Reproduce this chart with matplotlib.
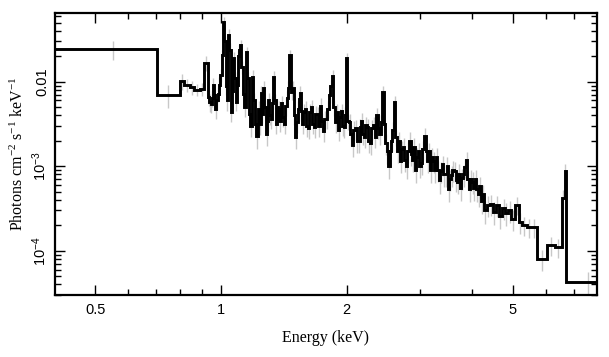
import numpy as np
import matplotlib
matplotlib.use("Agg")
import matplotlib.pyplot as plt
from matplotlib.ticker import FixedLocator, FixedFormatter, NullFormatter

# ---- data ----
energy_edges = [
    0.38, 0.702, 0.798, 0.815, 0.843, 0.862, 0.891, 0.911, 0.931,
    0.9385, 0.946, 0.9515, 0.957, 0.962, 0.967, 0.9755, 0.984, 0.989, 0.9945,
    1.003, 1.011, 1.0195, 1.028, 1.0335, 1.039, 1.048, 1.057, 1.0625, 1.068,
    1.077, 1.086, 1.092, 1.098, 1.104, 1.110, 1.1195, 1.129, 1.1385, 1.148,
    1.1575, 1.167, 1.1765, 1.186, 1.196, 1.206, 1.216, 1.226, 1.2365, 1.247,
    1.2535, 1.260, 1.271, 1.282, 1.289, 1.296, 1.3065, 1.317, 1.3245, 1.332,
    1.343, 1.354, 1.3615, 1.369, 1.3805, 1.392, 1.4035, 1.415, 1.427, 1.439,
    1.447, 1.455, 1.471, 1.487, 1.4955, 1.504, 1.5165, 1.529, 1.5375, 1.546,
    1.5545, 1.563, 1.576, 1.589, 1.6025, 1.616, 1.629, 1.642, 1.656, 1.670,
    1.684, 1.698, 1.712, 1.726, 1.7405, 1.755, 1.7695, 1.784, 1.799, 1.814,
    1.829, 1.844, 1.8595, 1.875, 1.8905, 1.906, 1.922, 1.938, 1.954, 1.970,
    1.981, 1.992, 2.0085, 2.025, 2.042, 2.059, 2.0765, 2.094, 2.1115, 2.129,
    2.1465, 2.164, 2.182, 2.200, 2.2185, 2.237, 2.2555, 2.274, 2.293, 2.312,
    2.3315, 2.351, 2.3705, 2.390, 2.410, 2.430, 2.450, 2.470, 2.491, 2.512,
    2.5325, 2.553, 2.5745, 2.596, 2.6175, 2.639, 2.661, 2.683, 2.7055, 2.728,
    2.7505, 2.773, 2.7965, 2.820, 2.8435, 2.867, 2.8905, 2.914, 2.9385, 2.963,
    2.9875, 3.012, 3.0375, 3.063, 3.0885, 3.114, 3.140, 3.166, 3.192, 3.218,
    3.245, 3.272, 3.2995, 3.327, 3.3545, 3.382, 3.4105, 3.439, 3.4675, 3.496,
    3.525, 3.554, 3.584, 3.614, 3.644, 3.674, 3.7045, 3.735, 3.766, 3.797,
    3.829, 3.861, 3.893, 3.925, 3.9575, 3.990, 4.0235, 4.057, 4.0905, 4.124,
    4.1585, 4.193, 4.228, 4.263,
    4.335, 4.407, 4.480, 4.555, 4.631, 4.709, 4.787, 4.867, 4.949, 5.058,
    5.171, 5.257, 5.404, 5.524, 5.709, 6.035, 6.306, 6.555, 6.646, 6.702, 8.5,
]

flux = [
    0.0244, 0.00696, 0.0102, 0.0091, 0.0086, 0.0080, 0.0082, 0.0166,
    0.0066, 0.0058, 0.0054, 0.0064, 0.0091, 0.0070, 0.0048, 0.0060, 0.0072, 0.0092,
    0.0120, 0.0207, 0.051, 0.030, 0.0090, 0.0060, 0.036, 0.024, 0.0044, 0.0078,
    0.0190, 0.0110, 0.0058, 0.0092, 0.0200, 0.0237, 0.0272, 0.0150, 0.0072, 0.0050,
    0.0223, 0.0110, 0.0042, 0.0030, 0.0114, 0.0060, 0.0032, 0.0023, 0.0048, 0.0032,
    0.0074, 0.0042, 0.0084, 0.0050, 0.0024, 0.0034, 0.0061, 0.0040, 0.0036, 0.0056,
    0.0114, 0.0060, 0.0032, 0.0050, 0.0048, 0.0034, 0.0056, 0.0038, 0.0032, 0.0052,
    0.0064, 0.0085, 0.0207, 0.0075, 0.0085, 0.0040, 0.0022, 0.0033, 0.0048, 0.0062,
    0.0074, 0.0045, 0.0032, 0.0044, 0.0048, 0.0030, 0.0028, 0.0044, 0.0050, 0.0032,
    0.0029, 0.0042, 0.0041, 0.0030, 0.0052, 0.0034, 0.0026, 0.0036, 0.0036, 0.0048,
    0.0070, 0.0088, 0.0117, 0.0050, 0.0033, 0.0044, 0.0027, 0.0038, 0.0045, 0.0030,
    0.0029, 0.0040, 0.0190, 0.0034, 0.0033, 0.0024, 0.0018, 0.0027, 0.0028, 0.0020,
    0.0020, 0.0029, 0.0034, 0.0024, 0.0022, 0.0031, 0.0029, 0.0020, 0.0019, 0.0028,
    0.0031, 0.0022, 0.0040, 0.0028, 0.0024, 0.0033, 0.0076, 0.0032, 0.0019, 0.00150,
    0.00100, 0.0015, 0.0020, 0.0027, 0.0057, 0.0022, 0.00150, 0.0020, 0.00115, 0.0016,
    0.0017, 0.0012, 0.0010, 0.0015, 0.0020, 0.0014, 0.00120, 0.0017, 0.0009, 0.0013,
    0.00150, 0.0010, 0.00110, 0.0016, 0.0023, 0.0015, 0.00115, 0.0015, 0.0009, 0.0013,
    0.00115, 0.0009, 0.0013, 0.0009, 0.00068, 0.00088, 0.00105, 0.0008, 0.00080, 0.0010,
    0.00054, 0.00070, 0.00078, 0.00090, 0.00088, 0.00068, 0.00066, 0.00082, 0.00056, 0.00072,
    0.00080, 0.00098, 0.00118, 0.00070, 0.00054, 0.00070, 0.00066, 0.00056, 0.00070, 0.00054,
    0.00047, 0.00058, 0.00039, 0.00047,
    0.00030, 0.00035, 0.00036, 0.00029, 0.00035, 0.00026, 0.00032, 0.00028, 0.00030, 0.00024,
    0.00035, 0.00022, 0.00020, 0.00019, 0.00019, 7.96e-5, 0.000117, 0.000110, 0.00042, 0.00088,
    4.3e-5,
]

# relative size of the grey error bars, one per bin
rel_err = [
    0.25, 0.30, 0.22, 0.18, 0.18, 0.16, 0.18, 0.20,
    0.22, 0.24, 0.20, 0.22, 0.20, 0.22, 0.24, 0.22, 0.20, 0.22,
    0.18, 0.16, 0.15, 0.16, 0.22, 0.24, 0.16, 0.18, 0.25, 0.22,
    0.18, 0.20, 0.22, 0.20, 0.16, 0.16, 0.15, 0.18, 0.22, 0.24,
    0.16, 0.18, 0.25, 0.26, 0.20, 0.22, 0.28, 0.30, 0.24, 0.26,
    0.20, 0.22, 0.20, 0.22, 0.28, 0.26, 0.22, 0.24, 0.24, 0.22,
    0.18, 0.20, 0.25, 0.24, 0.24, 0.26, 0.22, 0.24, 0.25, 0.24,
    0.22, 0.20, 0.16, 0.18, 0.20, 0.24, 0.28, 0.26, 0.24, 0.22,
    0.20, 0.24, 0.25, 0.24, 0.24, 0.26, 0.25, 0.24, 0.22, 0.25,
    0.25, 0.24, 0.24, 0.26, 0.22, 0.25, 0.26, 0.24, 0.24, 0.22,
    0.20, 0.20, 0.18, 0.22, 0.25, 0.24, 0.26, 0.25, 0.22, 0.25,
    0.25, 0.24, 0.16, 0.20, 0.26, 0.28, 0.28, 0.26, 0.26, 0.28,
    0.28, 0.26, 0.24, 0.26, 0.26, 0.25, 0.25, 0.28, 0.28, 0.26,
    0.25, 0.26, 0.22, 0.25, 0.25, 0.24, 0.18, 0.20, 0.28, 0.30,
    0.30, 0.28, 0.25, 0.24, 0.20, 0.22, 0.28, 0.26, 0.28, 0.26,
    0.26, 0.28, 0.30, 0.28, 0.26, 0.28, 0.28, 0.26, 0.30, 0.28,
    0.26, 0.28, 0.28, 0.26, 0.22, 0.24, 0.28, 0.26, 0.30, 0.28,
    0.28, 0.30, 0.26, 0.28, 0.30, 0.28, 0.26, 0.28, 0.28, 0.28,
    0.30, 0.28, 0.28, 0.28, 0.26, 0.28, 0.28, 0.28, 0.30, 0.28,
    0.28, 0.26, 0.24, 0.26, 0.30, 0.28, 0.28, 0.30, 0.28, 0.30,
    0.30, 0.28, 0.30, 0.28,
    0.30, 0.28, 0.28, 0.30, 0.28, 0.30, 0.28, 0.30, 0.28, 0.28,
    0.25, 0.28, 0.26, 0.26, 0.25, 0.28, 0.25, 0.25, 0.25, 0.20,
    0.30,
]

x_tick_vals = [0.5, 1, 2, 5]
x_tick_labels = ["0.5", "1", "2", "5"]
y_tick_vals = [1e-4, 1e-3, 1e-2]
y_tick_labels = [r"$\mathsf{10^{-4}}$", r"$\mathsf{10^{-3}}$", "0.01"]

# ---- style ----
plt.rcParams["mathtext.fontset"] = "custom"
plt.rcParams["mathtext.rm"] = "Liberation Serif"
plt.rcParams["mathtext.it"] = "Liberation Serif:italic"
plt.rcParams["mathtext.sf"] = "Liberation Sans"

edges = np.array(energy_edges)
vals = np.array(flux)
errs = np.array(rel_err)
centers = np.sqrt(edges[:-1] * edges[1:])
centers[0] = 0.55

fig = plt.figure(figsize=(6.09, 3.57), dpi=100)
ax = fig.add_axes([0.0903, 0.1737, 0.8900, 0.7899])

ax.vlines(centers, vals * (1 - errs), vals * (1 + errs), color="#c8c8c8", lw=1.0, zorder=1)
ax.stairs(vals, edges, baseline=None, color="black", lw=2.1, zorder=2)

ax.set_xscale("log")
ax.set_yscale("log")
ax.set_xlim(0.4005, 7.95)
ax.set_ylim(3.0e-5, 0.065)

ax.xaxis.set_major_locator(FixedLocator(x_tick_vals))
ax.xaxis.set_major_formatter(FixedFormatter(x_tick_labels))
ax.xaxis.set_minor_locator(FixedLocator([0.6, 0.7, 0.8, 0.9, 3, 4, 6, 7]))
ax.xaxis.set_minor_formatter(NullFormatter())

ax.yaxis.set_major_locator(FixedLocator(y_tick_vals))
ax.yaxis.set_major_formatter(FixedFormatter(y_tick_labels))
ymin = [m * d for d in [1e-5, 1e-4, 1e-3, 1e-2] for m in range(2, 10)]
ax.yaxis.set_minor_locator(FixedLocator(ymin))
ax.yaxis.set_minor_formatter(NullFormatter())

ax.tick_params(which="both", direction="in", top=True, right=True, width=1.0,
               color="black")
ax.tick_params(which="major", length=7)
ax.tick_params(which="minor", length=4)
ax.tick_params(axis="x", which="major", labelsize=10.5, pad=6)
ax.tick_params(axis="y", which="major", labelsize=10.5, pad=4)
for lab in ax.get_xticklabels():
    lab.set_fontfamily("Liberation Sans")
for lab in ax.get_yticklabels():
    lab.set_fontfamily("Liberation Sans")
    lab.set_rotation(90)
    lab.set_va("center")

for s in ax.spines.values():
    s.set_linewidth(1.6)

ax.set_xlabel("Energy (keV)", fontfamily="Liberation Serif", fontsize=11.5, labelpad=9)
ax.set_ylabel(r"Photons cm$^{-2}$ s$^{-1}$ keV$^{-1}$", fontfamily="Liberation Serif",
              fontsize=11.5, labelpad=3)

fig.savefig("out.png", dpi=100)
